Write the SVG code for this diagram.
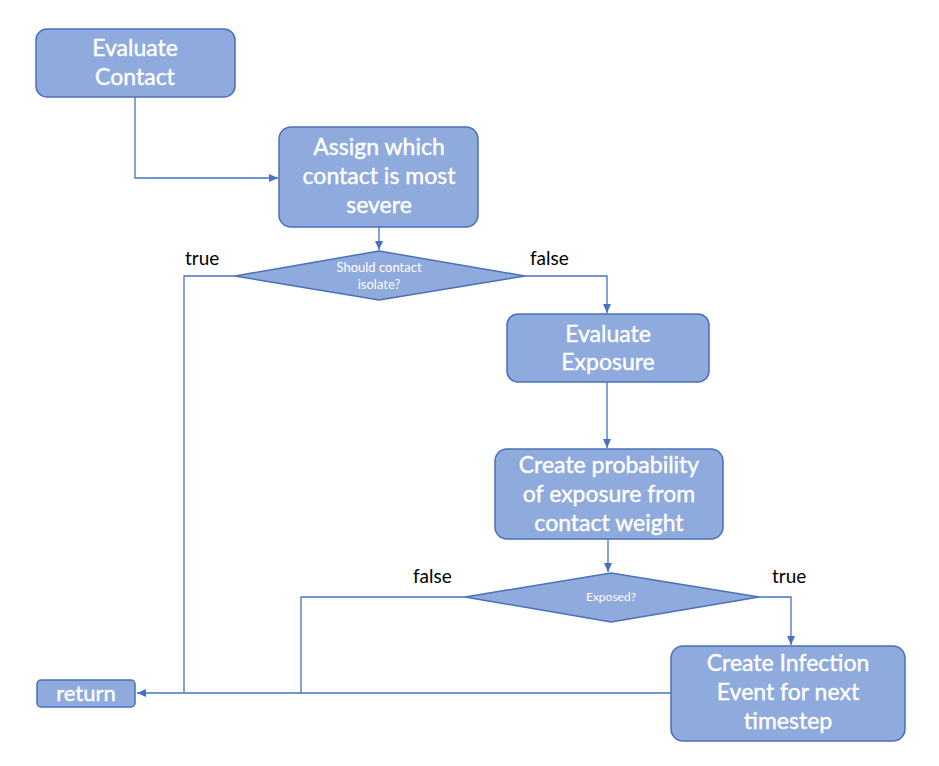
<svg xmlns="http://www.w3.org/2000/svg" width="939" height="766" viewBox="0 0 939 766">
<defs>
<marker id="ah" markerWidth="10" markerHeight="10" refX="9" refY="5" orient="auto" markerUnits="userSpaceOnUse">
<path d="M0,1 L9,5 L0,9 Z" fill="#4472C4"/>
</marker>
<style>
.box{fill:#8FAADC;stroke:#4A70B8;stroke-width:1.5}
.t{fill:#ffffff;stroke:#ffffff;stroke-width:0.4;font-family:Lato,"Liberation Sans",sans-serif;font-size:23px;text-anchor:middle}
.s{fill:#ffffff;font-family:Lato,"Liberation Sans",sans-serif;font-size:13px;text-anchor:middle}
.lbl{fill:#000000;font-family:Lato,"Liberation Sans",sans-serif;font-size:19px}
.c{fill:none;stroke:#4472C4;stroke-width:1.3}
</style>
</defs>
<rect width="939" height="766" fill="#ffffff"/>
<g id="connectors">
<polyline class="c" points="135,97 135,178 278,178" marker-end="url(#ah)"/>
<polyline class="c" points="379,227 379,250" marker-end="url(#ah)"/>
<polyline class="c" points="525,276 607,276 607,313" marker-end="url(#ah)"/>
<polyline class="c" points="607,382 607,448" marker-end="url(#ah)"/>
<polyline class="c" points="608,539 608,572" marker-end="url(#ah)"/>
<polyline class="c" points="235,276 184,276 184,693"/>
<polyline class="c" points="467,597 301,597 301,693"/>
<polyline class="c" points="759,597 791,597 791,645" marker-end="url(#ah)"/>
<polyline class="c" points="671,693 137,693" marker-end="url(#ah)"/>
<text class="lbl" x="185" y="265">true</text>
<text class="lbl" x="530" y="265">false</text>
<text class="lbl" x="413" y="583">false</text>
<text class="lbl" x="772" y="583">true</text>
</g>
<g id="evaluate-contact">
<rect class="box" x="36" y="29" width="199" height="68" rx="11"/>
<text class="t" x="135" y="56">Evaluate</text>
<text class="t" x="135" y="85">Contact</text>
</g>
<g id="assign-severe">
<rect class="box" x="279" y="127" width="199" height="100" rx="12"/>
<text class="t" x="379" y="155">Assign which</text>
<text class="t" x="379" y="184">contact is most</text>
<text class="t" x="379" y="213">severe</text>
</g>
<g id="should-isolate">
<polygon class="box" points="379,251 525,276 379,300 235,276"/>
<text class="s" x="379" y="272">Should contact</text>
<text class="s" x="379" y="289">isolate?</text>
</g>
<g id="evaluate-exposure">
<rect class="box" x="507" y="314" width="202" height="68" rx="11"/>
<text class="t" x="608" y="342">Evaluate</text>
<text class="t" x="608" y="370">Exposure</text>
</g>
<g id="create-probability">
<rect class="box" x="495" y="449" width="228" height="90" rx="12"/>
<text class="t" x="609" y="473">Create probability</text>
<text class="t" x="609" y="502">of exposure from</text>
<text class="t" x="609" y="531">contact weight</text>
</g>
<g id="exposed">
<polygon class="box" points="611,573 759,597 611,622 465,597"/>
<text class="s" x="611" y="601" style="font-size:12px">Exposed?</text>
</g>
<g id="create-infection">
<rect class="box" x="671" y="646" width="234" height="95" rx="12"/>
<text class="t" x="788" y="671">Create Infection</text>
<text class="t" x="788" y="700">Event for next</text>
<text class="t" x="788" y="729">timestep</text>
</g>
<g id="return">
<rect class="box" x="37" y="680" width="98" height="27" rx="4"/>
<text class="t" x="86" y="701" style="font-size:22px">return</text>
</g>
</svg>
